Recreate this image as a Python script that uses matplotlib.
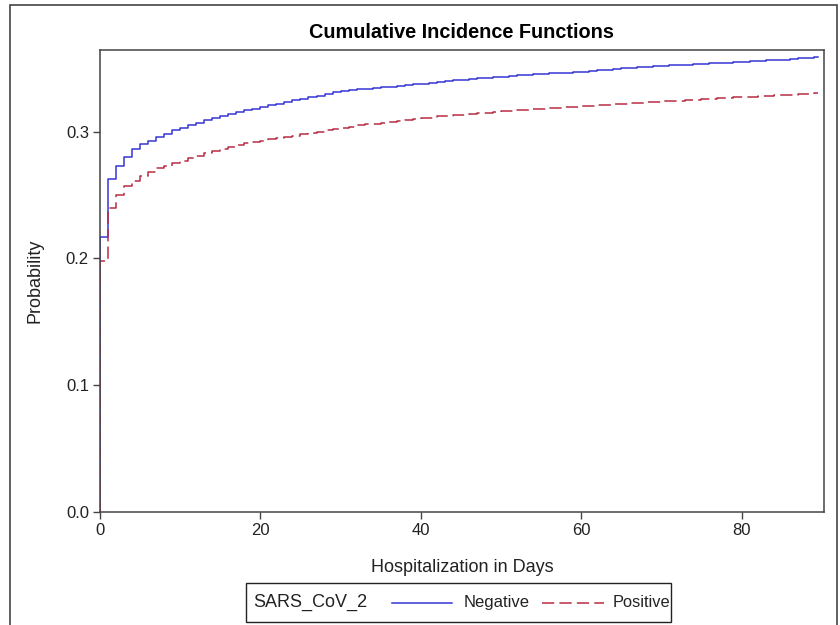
import matplotlib
matplotlib.use("Agg")
import matplotlib.pyplot as plt
from matplotlib.lines import Line2D
from matplotlib.patches import Rectangle

plt.rcParams['font.family'] = ['Liberation Sans', 'DejaVu Sans']

days = list(range(90))
negative = [0.217, 0.263, 0.273, 0.280, 0.286, 0.290, 0.293, 0.296, 0.298, 0.301,
            0.303, 0.305, 0.307, 0.309, 0.311, 0.3125, 0.314, 0.3155, 0.317, 0.318,
            0.3195, 0.321, 0.322, 0.3235, 0.325, 0.326, 0.327, 0.3285, 0.330, 0.331,
            0.332, 0.333, 0.3335, 0.334, 0.3345, 0.335, 0.3355, 0.336, 0.337, 0.3375,
            0.338, 0.3387, 0.3395, 0.340, 0.3405, 0.341, 0.3415, 0.342, 0.3425, 0.343,
            0.3435, 0.344, 0.3445, 0.345, 0.3453, 0.3456, 0.346, 0.3463, 0.3466, 0.347,
            0.3474, 0.348, 0.3485, 0.349, 0.3495, 0.350, 0.3505, 0.351, 0.3513, 0.3516,
            0.352, 0.3523, 0.3526, 0.353, 0.3533, 0.3536, 0.354, 0.3543, 0.3546, 0.355,
            0.3553, 0.3556, 0.356, 0.3563, 0.3566, 0.357, 0.3575, 0.358, 0.3583, 0.3586]
positive = [0.198, 0.240, 0.250, 0.257, 0.261, 0.265, 0.268, 0.271, 0.273, 0.275,
            0.277, 0.279, 0.281, 0.283, 0.285, 0.2865, 0.288, 0.2895, 0.291, 0.292,
            0.293, 0.294, 0.295, 0.296, 0.297, 0.298, 0.299, 0.300, 0.301, 0.302,
            0.303, 0.304, 0.305, 0.3057, 0.3063, 0.307, 0.3077, 0.3085, 0.309, 0.3097,
            0.3105, 0.3112, 0.312, 0.3125, 0.313, 0.3135, 0.314, 0.3145, 0.315, 0.3155,
            0.316, 0.3165, 0.317, 0.3175, 0.318, 0.3183, 0.3186, 0.319, 0.3193, 0.3196,
            0.320, 0.3205, 0.321, 0.3213, 0.3216, 0.322, 0.3224, 0.3228, 0.3232, 0.3236,
            0.324, 0.3243, 0.3246, 0.325, 0.3253, 0.3256, 0.326, 0.3263, 0.3266, 0.327,
            0.3273, 0.3276, 0.328, 0.3283, 0.3286, 0.329, 0.3293, 0.3296, 0.330, 0.3303]
end_day = 89.5
x_ticks = [0, 20, 40, 60, 80]
y_ticks = [0.0, 0.1, 0.2, 0.3]
group_title = "SARS_CoV_2"
group_labels = ["Negative", "Positive"]

W, H = 840, 625
fig = plt.figure(figsize=(W / 100, H / 100), dpi=100)
ax = fig.add_axes([100 / W, 1 - 511.7 / H, (823.7 - 100) / W, (511.7 - 50) / H])

blue = '#3636D4'
red = '#B82C44'
dash = (8, 3.4)

xs = [0] + days + [end_day]
ax.plot(xs, [0] + negative + [negative[-1]], drawstyle='steps-post', color=blue, lw=1.1)
ax.plot(xs, [0] + positive + [positive[-1]], drawstyle='steps-post', color=red, lw=1.1,
        dashes=dash)

ax.set_xlim(0, 90.25)
ax.set_ylim(0, 0.3645)
ax.set_xticks(x_ticks)
ax.set_xticklabels([str(t) for t in x_ticks])
ax.set_yticks(y_ticks)
ax.set_yticklabels([f"{t:.1f}" for t in y_ticks])
ax.tick_params(direction='out', length=5, width=1, color='#444444', labelsize=12,
               pad=3, labelcolor='#222222')
for s in ax.spines.values():
    s.set_color('#444444')
    s.set_linewidth(1.1)

ax.set_xlabel("Hospitalization in Days", fontsize=13, labelpad=15, color='#222222')
ax.set_ylabel("Probability", fontsize=13, labelpad=16, color='#222222')
ax.set_title("Cumulative Incidence Functions", fontsize=14.3, fontweight='bold', pad=9)

# outer frame
fig.patches.append(Rectangle((9.5 / W, -0.02), (837 - 9.5) / W, 1.02 - 5.5 / H,
                             transform=fig.transFigure, fill=False,
                             edgecolor='#444444', lw=1.2))

# legend box
lx0, lx1, ly0, ly1 = 246, 671, 583, 622
fig.patches.append(Rectangle((lx0 / W, 1 - ly1 / H), (lx1 - lx0) / W, (ly1 - ly0) / H,
                             transform=fig.transFigure, fill=False,
                             edgecolor='#222222', lw=1.0))
yc = 1 - 602.5 / H
fig.text(253 / W, yc, group_title, fontsize=13, va='center', ha='left', color='#222222')
fig.add_artist(Line2D([392 / W, 452 / W], [yc, yc], transform=fig.transFigure,
                      color=blue, lw=1.1))
fig.text(464 / W, yc, group_labels[0], fontsize=12, va='center', ha='left', color='#222222')
fig.add_artist(Line2D([542 / W, 604 / W], [yc, yc], transform=fig.transFigure,
                      color=red, lw=1.1, dashes=dash))
fig.text(613 / W, yc, group_labels[1], fontsize=11.8, va='center', ha='left', color='#222222')

fig.savefig("out.png", dpi=100)
